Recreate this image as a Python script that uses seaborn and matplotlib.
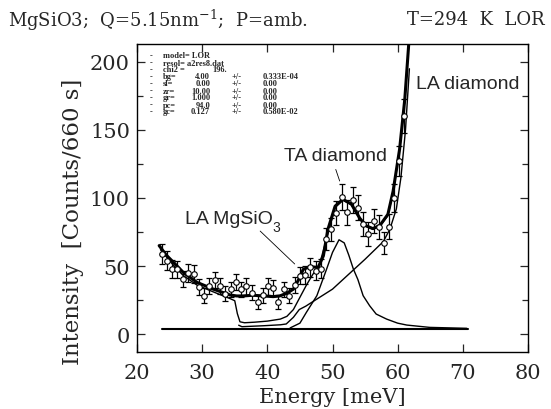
import numpy as np
import pandas as pd
import seaborn as sns
import matplotlib.pyplot as plt

energy = [23.8, 24.6, 25.4, 26.2, 27.0, 27.9, 28.7, 29.5, 30.3, 31.1,
          31.9, 32.7, 33.5, 34.4, 35.2, 36.0, 36.8, 37.6, 38.5, 39.3,
          40.1, 40.9, 41.7, 42.5, 43.4, 44.2, 45.0, 45.8, 46.6, 47.4,
          48.2, 49.0, 49.8, 50.6, 51.4, 52.3, 53.1, 53.9, 54.7, 55.5,
          56.3, 57.1, 57.9, 58.7, 59.5, 60.2, 61.0]
counts = [59, 54, 48, 47.5, 40.5, 45, 44, 34.5, 28, 35.5,
          39.5, 35.5, 29.5, 33, 38.5, 33, 35, 30.5, 23.5, 28.5,
          35, 34, 23.5, 33, 28, 36, 43, 43.5, 49, 46.5,
          48, 70, 77, 89, 101, 89.5, 98.5, 93, 81, 73.5,
          83, 78.5, 67, 79, 100, 127, 160]
errors = [7.5, 7, 6.5, 6.5, 6, 6.5, 6.5, 6, 5.5, 6,
          6, 6, 5.5, 5.5, 6, 5.5, 6, 5.5, 5, 5.5,
          6, 6, 5, 5.5, 5.5, 6, 6.5, 6.5, 7, 7,
          7, 8, 8.5, 9, 9.5, 9, 9.5, 9.5, 9, 8.5,
          9, 9, 8, 9, 10, 11, 12.5]

# total fit (thick)
fit_e = [23.4, 24.5, 25.6, 27.1, 29.2, 31.7, 34.3, 35.3, 36.3, 37.8, 39.4,
         40.9, 41.9, 43.0, 44.0, 44.8, 45.5, 46.5, 47.8, 48.6, 49.3, 50.4,
         51.6, 52.9, 54.2, 55.2, 56.2, 57.3, 58.5, 59.3, 60.3, 61.1, 61.8]
fit_i = [65, 58, 52.7, 45.3, 38, 33, 28.7, 28, 28, 28.5, 28,
         27.5, 28, 30, 33, 40, 47.5, 49.5, 49, 57.5, 77, 94,
         99, 95.5, 85, 79.5, 77.5, 80, 88, 105, 136, 173, 220]

# thin model line with the step near 35 meV
step_e = [23.6, 25.6, 27.1, 29.2, 31.7, 34.3, 35.0, 35.4, 35.8, 36.5, 38.0,
          40.0, 42.0, 43.0, 44.0, 45.0, 46.0, 47.0, 48.0, 49.3, 50.4, 51.6,
          52.9, 54.2, 55.2, 56.2, 57.3, 58.5, 59.3, 60.3, 61.1, 61.8]
step_i = [62, 50.5, 43, 36, 31, 26, 24.5, 15, 9, 8.3, 8.7,
          9.5, 11, 13, 18, 27, 36, 44, 51, 74, 93, 98.5,
          95, 84.5, 79, 77, 79.5, 87, 104, 135, 172, 220]

# lower component (shoulder + LA diamond rise)
la_e = [35.6, 36.1, 39.4, 42.0, 42.9, 44.0, 44.9, 45.9, 47.6, 50.0, 52.5,
        55.0, 57.8, 58.8, 59.8, 60.5, 61.2, 61.8]
la_i = [6.5, 5.4, 6.1, 6.8, 7.4, 12.3, 18, 20.5, 25.7, 33, 44,
        55, 68, 77, 92, 115, 150, 195]

# TA diamond peak
ta_e = [43.5, 45.0, 46.0, 47.6, 49.1, 50.0, 51.0, 51.8, 52.5, 53.2, 53.9,
        54.7, 55.7, 56.7, 58.3, 60.0, 61.4, 64.9, 70.6]
ta_i = [4.5, 8, 16, 28.2, 47.8, 60, 69.3, 67, 58, 47.8, 40,
        28.2, 20.8, 14.7, 11, 8, 6.6, 4.9, 4.2]

# flat background
bg_e = [23.8, 70.8]
bg_i = [4.0, 4.0]

legend_rows = [("model= LOR", "", ""),
               ("resol= a2res8.dat", "", ""),
               ("chi2 =", "196.", ""),
               ("bg=", "4.00", "0.333E-04"),
               ("sl=", "0.00", "0.00"),
               ("zr=", "10.00", "0.00"),
               ("gr=", "1.000", "0.00"),
               ("pc=", "94.0", "0.00"),
               ("gc=", "0.127", "0.580E-02")]

sns.set_style("ticks")
plt.rcParams['font.family'] = ['DejaVu Serif']
plt.rcParams['mathtext.fontset'] = 'dejavuserif'

fig = plt.figure(figsize=(5.51, 4.10), dpi=100)
ax = fig.add_axes([137/551, 1-353/410, 391/551, 308/410])

spec = pd.DataFrame({"E": energy, "I": counts})
ax.errorbar(energy, counts, yerr=errors, fmt="none", ecolor="black",
            elinewidth=0.9, capsize=2.5, capthick=0.9, zorder=3)

sns.lineplot(x=bg_e, y=bg_i, ax=ax, color="black", lw=1.5, sort=False, estimator=None)
sns.lineplot(x=ta_e, y=ta_i, ax=ax, color="black", lw=1.0, sort=False, estimator=None)
sns.lineplot(x=la_e, y=la_i, ax=ax, color="black", lw=1.0, sort=False, estimator=None)
sns.lineplot(x=step_e, y=step_i, ax=ax, color="black", lw=1.0, sort=False, estimator=None)
sns.lineplot(x=fit_e, y=fit_i, ax=ax, color="black", lw=2.2, sort=False, estimator=None)
sns.scatterplot(data=spec, x="E", y="I", ax=ax, marker="o", s=16,
                facecolor="white", edgecolor="black", linewidth=0.8, zorder=4)

ax.set_xlim(20, 80)
ax.set_ylim(-13.2, 213.2)
ax.set_xticks(range(20, 81, 10))
ax.set_yticks(range(0, 201, 50))
ax.set_yticks(range(0, 201, 25), minor=True)
ax.tick_params(which="both", direction="in", top=True, right=True,
               labelsize=15, width=0.9)
ax.tick_params(axis="x", pad=8)
ax.tick_params(axis="y", pad=5)
ax.tick_params(which="major", length=6)
ax.tick_params(which="minor", length=4)
for sp in ax.spines.values():
    sp.set_linewidth(1.0)
    sp.set_color("black")
ax.set_xlabel("")
ax.set_ylabel("")

fig.text(332/551, 1-398/410, "Energy [meV]", ha="center", va="center", fontsize=15)
fig.text(73/551, 1-222/410, "Intensity  [Counts/660 s]", ha="center", va="center",
         rotation=90, fontsize=16.5)
fig.text(8/551, 1-20/410, "MgSiO3;  Q=5.15nm$^{-1}$;  P=amb.", ha="left", va="center",
         fontsize=13)
fig.text(545/551, 1-20/410, "T=294  K  LOR", ha="right", va="center", fontsize=13)

# fit parameter block
blk = dict(fontsize=6, va="center", family="Liberation Serif", weight="bold")
for k, (lab, val, err) in enumerate(legend_rows):
    yy = 1 - (56.5 + 7.0 * k) / 410
    fig.text(150/551, yy, "-", **blk)
    fig.text(163/551, yy, lab, **blk)
    if lab.startswith("chi2"):
        fig.text(212/551, yy, val, **blk)
    elif val:
        fig.text(210/551, yy, val, ha="right", **blk)
        fig.text(232/551, yy, "+/-", **blk)
        fig.text(263/551, yy, err, **blk)

sans = ['Liberation Sans', 'DejaVu Sans']
ax.text(70.8, 184, "LA diamond", fontsize=14, family=sans, ha="center", va="center")
ax.text(50.4, 131, "TA diamond", fontsize=14, family=sans, ha="center", va="center")
ax.text(27.3, 84.6, "LA MgSiO", fontsize=14, family=sans, ha="left", va="center")
ax.text(40.8, 79, "3", fontsize=10, family=sans, ha="left", va="center")
ax.plot([50.5, 51.1], [121, 112.5], color="black", lw=0.6)
ax.plot([38.9, 44.2], [75.7, 51.5], color="black", lw=0.6)

fig.savefig("out.png", dpi=100)
